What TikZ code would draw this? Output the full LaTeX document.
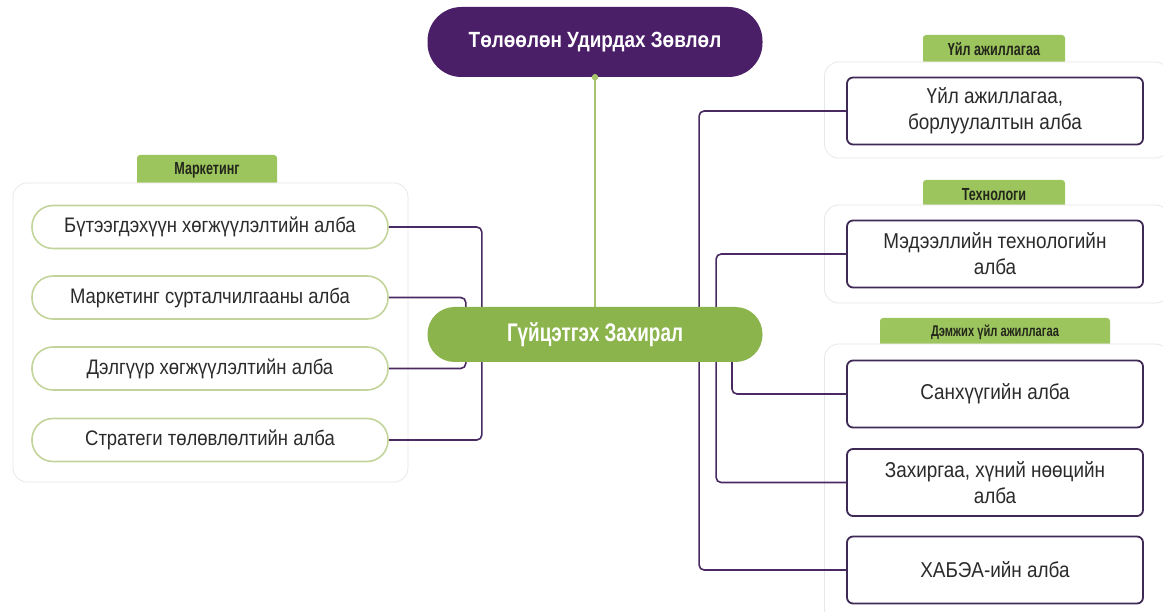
\documentclass[tikz,border=0pt]{standalone}
\usepackage{fontspec}
\setmainfont{Liberation Sans}
\newfontfamily\condf[FakeStretch=0.88]{Liberation Sans}
\newfontfamily\tabf[FakeStretch=0.72]{Liberation Sans}
\newfontfamily\headf[FakeStretch=0.86]{Liberation Sans}
\newfontfamily\ceof[FakeStretch=0.74]{Liberation Sans}
\definecolor{topPurple}{HTML}{4A1F68}
\definecolor{connPurple}{HTML}{4A2A63}
\definecolor{boxPurple}{HTML}{3F2A55}
\definecolor{ceoGreen}{HTML}{8CB44C}
\definecolor{tabGreen}{HTML}{9DC55E}
\definecolor{tabText}{HTML}{23261A}
\definecolor{pillEdge}{HTML}{C3D49A}
\definecolor{lineGreen}{HTML}{A6C46A}
\definecolor{bodyText}{HTML}{2B2B2B}
\pgfdeclarelayer{bg}
\pgfdeclarelayer{lines}
\pgfsetlayers{bg,lines,main}
\tikzset{
  groupbg/.style={draw=black!9, fill=white, rounded corners=14pt, line width=0.8pt},
  grouptab/.style={fill=tabGreen, inner sep=0pt, text=tabText, rounded corners=3pt,
     font=\tabf\bfseries\fontsize{17.5}{20}\selectfont},
  pillbox/.style={draw=pillEdge, fill=white, line width=1.6pt, rounded corners=21pt,
     minimum width=356pt, minimum height=43pt, inner sep=0pt, text=bodyText,
     font=\condf\fontsize{21}{26}\selectfont},
  deptbox/.style={draw=boxPurple, fill=white, line width=1.8pt, rounded corners=6pt,
     minimum width=296pt, minimum height=67pt, inner sep=0pt, text=bodyText, align=center,
     font=\condf\fontsize{21.5}{26}\selectfont},
  conn/.style={draw=connPurple, line width=1.6pt, rounded corners=5pt},
  headnode/.style={fill=topPurple, text=white, rounded corners=34pt, minimum width=335pt,
     minimum height=70pt, inner sep=0pt, font=\headf\bfseries\fontsize{22}{26}\selectfont},
  ceonode/.style={fill=ceoGreen, text=white, rounded corners=27pt, minimum width=335pt,
     minimum height=55pt, inner sep=0pt, font=\ceof\bfseries\fontsize{25.5}{30}\selectfont}
}
\begin{document}
\begin{tikzpicture}[x=1pt,y=-1pt]
\useasboundingbox (0,0) rectangle (1163,612);

% group backgrounds and tabs
\begin{pgfonlayer}{bg}
  \fill[white] (0,0) rectangle (1163,612);
  \node[grouptab, minimum width=140pt, minimum height=30pt] (tL) at (207,170) {\raisebox{1pt}{Маркетинг}};
  \node[groupbg, minimum width=395pt, minimum height=299pt] (gL) at (210.5,332.5) {};
  \node[grouptab, minimum width=142pt, minimum height=29pt] (tR1) at (994,49.5) {\raisebox{1pt}{Үйл ажиллагаа}};
  \node[groupbg, minimum width=345pt, minimum height=96pt] (gR1) at (997,110) {};
  \node[grouptab, minimum width=142pt, minimum height=29pt] (tR2) at (994,194.5) {\raisebox{1pt}{Технологи}};
  \node[groupbg, minimum width=345pt, minimum height=98pt] (gR2) at (997,254) {};
  \node[grouptab, minimum width=230pt, minimum height=29pt, font=\tabf\bfseries\fontsize{15.5}{18}\selectfont] (tR3) at (995,332.5) {\raisebox{1pt}{Дэмжих үйл ажиллагаа}};
  \node[groupbg, minimum width=345pt, minimum height=280pt] (gR3) at (997,484) {};
\end{pgfonlayer}

% main nodes
\node[headnode] (board) at (595,42) {Төлөөлөн Удирдах Зөвлөл};
\node[ceonode] (ceo) at (595,334.5) {Гүйцэтгэх Захирал};

\node[pillbox] (b1) at (210,227) {Бүтээгдэхүүн хөгжүүлэлтийн алба};
\node[pillbox] (b2) at (210,297.5) {Маркетинг сурталчилгааны алба};
\node[pillbox] (b3) at (210,368.5) {Дэлгүүр хөгжүүлэлтийн алба};
\node[pillbox] (b4) at (210,440) {Стратеги төлөвлөлтийн алба};

\node[deptbox] (r1) at (995,111) {Үйл ажиллагаа,\\борлуулалтын алба};
\node[deptbox] (r2) at (995,254) {Мэдээллийн технологийн\\алба};
\node[deptbox] (r3) at (995,394) {Санхүүгийн алба};
\node[deptbox] (r4) at (995,482.5) {Захиргаа, хүний нөөцийн\\алба};
\node[deptbox] (r5) at (995,570) {ХАБЭА-ийн алба};

% connectors
\begin{pgfonlayer}{lines}
  \draw[lineGreen, line width=1.5pt] (board.south) -- (ceo.north);
  \draw[conn] (b1.east) -- ++(93,0) |- (b4.east);
  \draw[conn] (b2.east) -- ++(77,0) |- (b3.east);
  \draw[conn] (r1.west) -- ++(-147,0) |- (r5.west);
  \draw[conn] (r2.west) -- ++(-130,0) |- (r4.west);
  \draw[conn] ([xshift=137pt]ceo.south) |- (r3.west);
\end{pgfonlayer}
\fill[lineGreen] (board.south) circle (3.2pt);
\end{tikzpicture}
\end{document}
